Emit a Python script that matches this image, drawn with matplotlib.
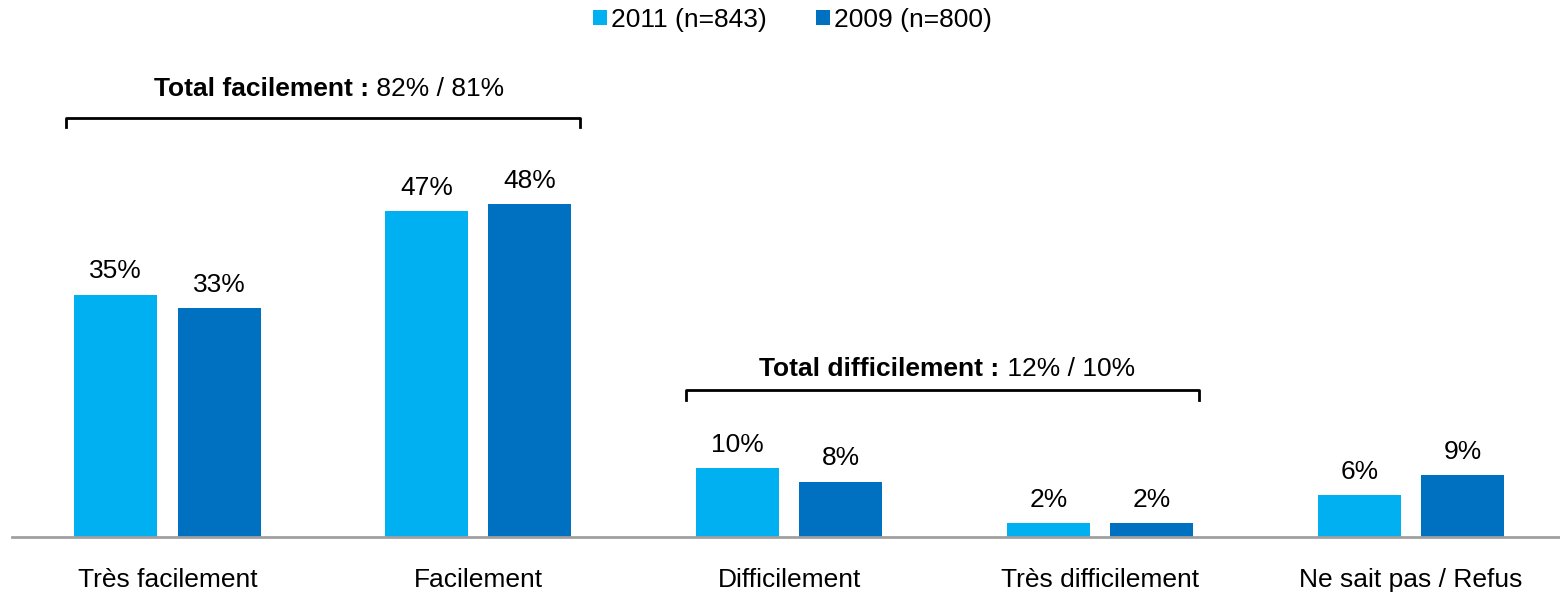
import numpy as np
import matplotlib.pyplot as plt

plt.rcParams['font.family'] = ['Liberation Sans', 'DejaVu Sans']

categories = ['Très facilement', 'Facilement', 'Difficilement', 'Très difficilement', 'Ne sait pas / Refus']
vals_2011 = [35, 47, 10, 2, 6]
vals_2009 = [33, 48, 8, 2, 9]
series_labels = ['2011 (n=843)', '2009 (n=800)']
colors = ['#00B0F0', '#0070C0']

fig = plt.figure(figsize=(15.6, 5.93), dpi=100)
ax = fig.add_axes([12 / 1560, (593 - 537) / 593, 1 - 12 / 1560, 487 / 593])

x = np.arange(len(categories))
w = 0.267
off = 0.166
b1 = ax.bar(x - off, vals_2011, w, color=colors[0], label=series_labels[0])
b2 = ax.bar(x + off, vals_2009, w, color=colors[1], label=series_labels[1])

for bars, vals in [(b1, vals_2011), (b2, vals_2009)]:
    for r, v in zip(bars, vals):
        ax.annotate(f'{v}%', (r.get_x() + r.get_width() / 2, v), xytext=(0, 8),
                    textcoords='offset points', ha='center', va='bottom', fontsize=19)

ax.set_xlim(-0.5, 4.48)
ax.set_ylim(0, 70.3)
ax.set_yticks([])
ax.set_xticks(x)
ax.set_xticklabels(categories, fontsize=19)
ax.tick_params(axis='x', length=0, pad=22)
for s in ['top', 'right', 'left']:
    ax.spines[s].set_visible(False)
ax.spines['bottom'].set_color('#A0A0A0')
ax.spines['bottom'].set_linewidth(2)


def bracket(x0, x1, y, h, split, bold, rest, ty):
    ax.plot([x0, x0, x1, x1], [y - h, y, y, y - h], color='black', lw=2, clip_on=False)
    ax.text(split, ty, bold, ha='right', va='center', fontsize=19, fontweight='bold')
    ax.text(split, ty, ' ' + rest, ha='left', va='center', fontsize=19)


bracket(-0.325, 1.328, 60.5, 1.3, 0.648, 'Total facilement :', '82% / 81%', 64.6)
bracket(1.669, 3.32, 21.2, 1.4, 2.677, 'Total difficilement :', '12% / 10%', 24.2)

fig.legend(loc='upper center', bbox_to_anchor=(0.508, 1.027), ncol=2, frameon=False,
           fontsize=19, handlelength=0.52, handleheight=0.52, handletextpad=0.15,
           columnspacing=1.9)

fig.savefig('out.png', dpi=100)
